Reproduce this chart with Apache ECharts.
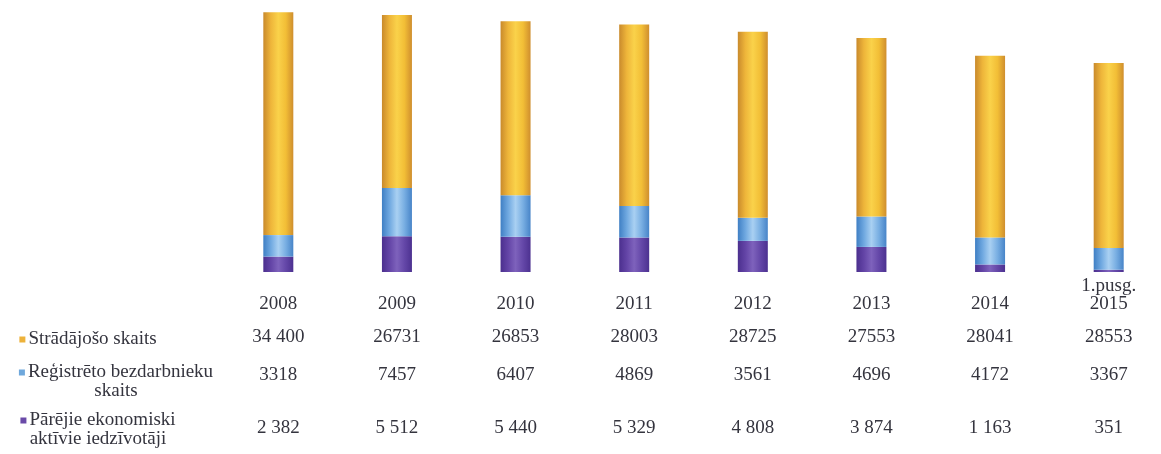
<!DOCTYPE html>
<html>
<head>
<meta charset="utf-8">
<script src="https://cdn.jsdelivr.net/npm/echarts@6/dist/echarts.min.js"></script>
<style>
html,body{margin:0;padding:0;background:#fff;}
#chart{width:1161px;height:454px;}
</style>
</head>
<body>
<div id="chart"></div>
<script>
// ---- data ----
const categories = ['2008', '2009', '2010', '2011', '2012', '2013', '2014', '1.pusg.\n2015'];
const seriesNames = ['Strādājošo skaits', 'Reģistrēto bezdarbnieku skaits', 'Pārējie ekonomiski aktīvie iedzīvotāji'];
const employed    = [34400, 26731, 26853, 28003, 28725, 27553, 28041, 28553];
const unemployed  = [3318, 7457, 6407, 4869, 3561, 4696, 4172, 3367];
const otherActive = [2382, 5512, 5440, 5329, 4808, 3874, 1163, 351];
// table labels as printed
const employedLabels    = ['34 400', '26731', '26853', '28003', '28725', '27553', '28041', '28553'];
const unemployedLabels  = ['3318', '7457', '6407', '4869', '3561', '4696', '4172', '3367'];
const otherActiveLabels = ['2 382', '5 512', '5 440', '5 329', '4 808', '3 874', '1 163', '351'];
const legendLines = [
  ['Strādājošo skaits'],
  ['Reģistrēto bezdarbnieku', 'skaits'],
  ['Pārējie ekonomiski', 'aktīvie iedzīvotāji']
];

const FONT = 'Liberation Serif';
const TXT = '#34343e';
const markerColors = ['#EDB23A', '#6FA8DC', '#6A4AA8'];

function hGrad(stops) {
  return new echarts.graphic.LinearGradient(0, 0, 1, 0, stops.map((c, i) => ({offset: i / (stops.length - 1), color: c})));
}
const colOrange = hGrad(['#C98A2C', '#EEB53A', '#FAD24A', '#F2BE36', '#CF8E2E']);
const colBlue   = hGrad(['#3F7FC4', '#6FA8E0', '#A9D0F2', '#78AEE2', '#4784C8']);
const colPurple = hGrad(['#4B2F8E', '#6344A6', '#7E62BC', '#6447A8', '#4C3190']);

const chart = echarts.init(document.getElementById('chart'), null, {renderer: 'canvas'});

function rowAxis(labels, margin) {
  return {
    type: 'category', data: categories, gridIndex: 0, position: 'bottom',
    axisLine: {show: false}, axisTick: {show: false}, splitLine: {show: false},
    axisLabel: {
      interval: 0, margin: margin, verticalAlign: 'middle',
      fontFamily: FONT, fontSize: 19, color: TXT,
      formatter: (v, i) => labels[i]
    }
  };
}

const graphics = legendLines.map((lines, k) => {
  const cx = [88, 116, 98][k];
  const cy = [340, 373, 421][k];
  const text = '{m|}{s|}' + lines[0] + (lines[1] ? '\n' + lines[1] : '');
  return {
    type: 'text', x: cx, y: cy - 10,
    style: {
      text: text, align: 'center', verticalAlign: 'top',
      font: '19px "' + FONT + '"', fill: TXT, lineHeight: 19,
      rich: {
        m: {width: 6, height: 6, backgroundColor: markerColors[k], verticalAlign: 'middle'},
        s: {width: 3}
      }
    }
  };
});

chart.setOption({
  animation: false,
  backgroundColor: '#ffffff',
  grid: {left: 219, top: 0, width: 949, height: 272, containLabel: false, outerBoundsMode: 'none'},
  xAxis: [
    {
      type: 'category', data: categories, position: 'bottom',
      axisLine: {show: false}, axisTick: {show: false},
      axisLabel: {interval: 0, margin: 41, verticalAlign: 'bottom', lineHeight: 18,
                  fontFamily: FONT, fontSize: 19, color: TXT}
    },
    rowAxis(employedLabels, 65),
    rowAxis(unemployedLabels, 103),
    rowAxis(otherActiveLabels, 156)
  ],
  yAxis: {type: 'value', min: 0, max: 42000, show: false, splitLine: {show: false}},
  series: [
    {name: seriesNames[2], type: 'bar', stack: 't', barWidth: 30, data: otherActive, itemStyle: {color: colPurple}},
    {name: seriesNames[1], type: 'bar', stack: 't', barWidth: 30, data: unemployed, itemStyle: {color: colBlue}},
    {name: seriesNames[0], type: 'bar', stack: 't', barWidth: 30, data: employed, itemStyle: {color: colOrange}}
  ],
  graphic: graphics
});
</script>
</body>
</html>
